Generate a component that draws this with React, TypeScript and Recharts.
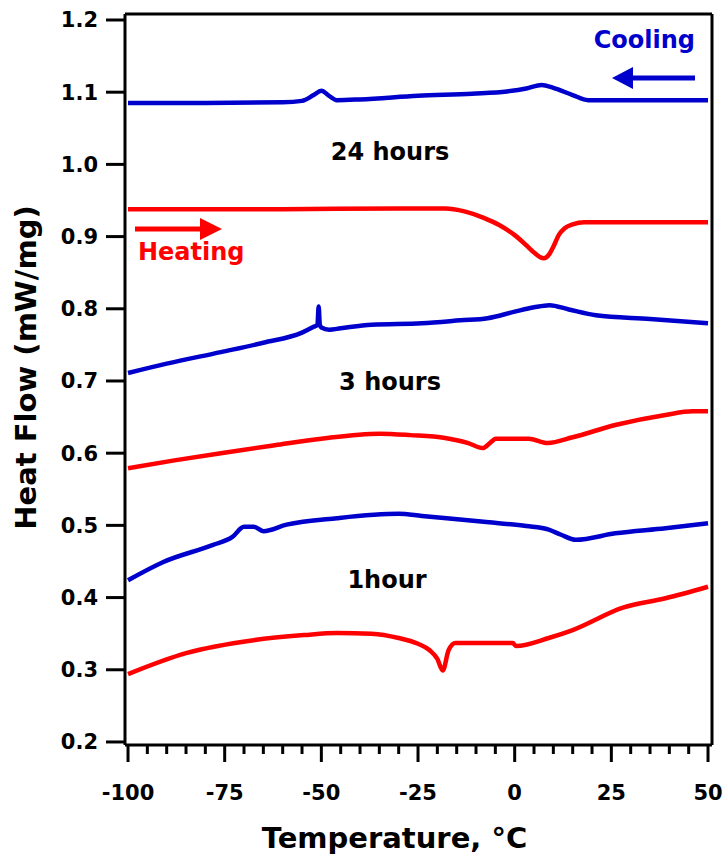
import React from "react";
import { LineChart, Line, XAxis, YAxis, ReferenceLine } from "recharts";

// temperatures (°C) and heat flow (mW/mg)
const cool24T = [-100, -80, -60, -55, -52, -50, -48, -46, -40, -25, -11, -2, 3, 7, 10, 15, 19, 30, 50];
const cool24H = [1.085, 1.085, 1.086, 1.088, 1.096, 1.102, 1.095, 1.089, 1.09, 1.095, 1.098, 1.101, 1.105, 1.11, 1.106, 1.096, 1.089, 1.089, 1.089];

const heat24T = [-100, -60, -30, -18, -13, -8, -4, 0, 3, 5, 7.5, 9, 10, 11.5, 13, 15, 18, 30, 50];
const heat24H = [0.938, 0.938, 0.939, 0.939, 0.935, 0.926, 0.916, 0.902, 0.888, 0.878, 0.87, 0.876, 0.886, 0.903, 0.912, 0.917, 0.92, 0.92, 0.92];

const cool3T = [-100, -90, -76, -65, -55, -52, -51, -50.7, -50.4, -50, -48, -45, -37, -24, -14, -7, 0, 5, 9, 14, 21, 35, 50];
const cool3H = [0.711, 0.724, 0.74, 0.753, 0.767, 0.775, 0.778, 0.803, 0.778, 0.774, 0.771, 0.773, 0.778, 0.78, 0.784, 0.787, 0.796, 0.802, 0.805, 0.799, 0.791, 0.786, 0.78];

const heat3T = [-100, -88, -76, -62, -50, -35, -27, -18, -12, -8.3, -6, -4.9, 0, 3.6, 8.5, 15, 26, 39, 46, 50];
const heat3H = [0.579, 0.59, 0.6, 0.611, 0.62, 0.627, 0.625, 0.621, 0.614, 0.607, 0.616, 0.62, 0.62, 0.62, 0.614, 0.622, 0.639, 0.653, 0.658, 0.658];

const cool1T = [-100, -91, -78, -73, -70, -67.5, -65, -59, -46, -30, -24, -8, 3, 8.8, 12, 15.8, 26, 39, 50];
const cool1H = [0.424, 0.449, 0.473, 0.484, 0.498, 0.498, 0.492, 0.501, 0.51, 0.516, 0.513, 0.505, 0.499, 0.494, 0.487, 0.48, 0.489, 0.496, 0.503];

const heat1T = [-100, -85, -67.5, -54.5, -46, -37, -30, -25, -22, -20, -18.6, -17.1, -15.3, -8, -0.5, 0.3, 8.8, 15, 28, 39, 50];
const heat1H = [0.294, 0.323, 0.341, 0.348, 0.351, 0.35, 0.344, 0.336, 0.327, 0.315, 0.299, 0.327, 0.337, 0.337, 0.337, 0.333, 0.344, 0.355, 0.386, 0.399, 0.415];

const xTicks = [-100, -95, -90, -85, -80, -75, -70, -65, -60, -55, -50, -45, -40, -35, -30, -25, -20, -15, -10, -5, 0, 5, 10, 15, 20, 25, 30, 35, 40, 45, 50];
const yTicks = [0.2, 0.3, 0.4, 0.5, 0.6, 0.7, 0.8, 0.9, 1.0, 1.1, 1.2];

const X_DOMAIN = [-100.78, 51.03];
const Y_DOMAIN = [0.1958, 1.2083];

const BLUE = "#0000CC";
const RED = "#FF0000";
const FONT = "DejaVu Sans";

const zip = (t: number[], h: number[]) => t.map((temp, i) => ({ temp, flow: h[i] }));

const series = [
  { key: "cool24", data: zip(cool24T, cool24H), color: BLUE },
  { key: "heat24", data: zip(heat24T, heat24H), color: RED },
  { key: "cool3", data: zip(cool3T, cool3H), color: BLUE },
  { key: "heat3", data: zip(heat3T, heat3H), color: RED },
  { key: "cool1", data: zip(cool1T, cool1H), color: BLUE },
  { key: "heat1", data: zip(heat1T, heat1H), color: RED },
];

function XTick(props: any) {
  const { x, y, payload } = props;
  const major = payload.value % 25 === 0;
  return (
    <g>
      <line x1={x} x2={x} y1={y} y2={y + (major ? 17 : 9)} stroke="#000" strokeWidth={3} />
      {major && (
        <text x={x} y={y + 55} textAnchor="middle" fontSize={21} fontWeight="bold" fontFamily={FONT} fill="#000">
          {payload.value}
        </text>
      )}
    </g>
  );
}

export default function App() {
  return (
    <div style={{ position: "relative", width: 724, height: 857, background: "#fff" }}>
      <style>{"body{margin:0}"}</style>
      <LineChart width={724} height={857} margin={{ top: 14, right: 12, bottom: 0, left: 0 }}>
        <XAxis
          dataKey="temp"
          type="number"
          domain={X_DOMAIN}
          allowDataOverflow
          ticks={xTicks}
          interval={0}
          height={112}
          tickSize={0}
          tickMargin={0}
          tickLine={false}
          tick={<XTick />}
          axisLine={{ stroke: "#000", strokeWidth: 3 }}
          label={{
            value: "Temperature, °C",
            position: "insideBottom",
            offset: 9,
            dx: -24,
            style: { fontSize: 29, fontWeight: "bold", fontFamily: FONT, fill: "#000" },
          }}
        />
        <YAxis
          type="number"
          domain={Y_DOMAIN}
          allowDataOverflow
          ticks={yTicks}
          interval={0}
          width={125}
          tickSize={19}
          tickMargin={8}
          tickFormatter={(v: number) => v.toFixed(1)}
          tickLine={{ stroke: "#000", strokeWidth: 3 }}
          axisLine={{ stroke: "#000", strokeWidth: 3 }}
          tick={{ fontSize: 21, fontWeight: "bold", fontFamily: FONT, fill: "#000" }}
          label={{
            value: "Heat Flow (mW/mg)",
            angle: -90,
            position: "insideLeft",
            offset: 26,
            textAnchor: "middle",
            dy: -12,
            style: { fontSize: 29, fontWeight: "bold", fontFamily: FONT, fill: "#000", textAnchor: "middle" },
          }}
        />
        {/* frame: top and right edges */}
        <ReferenceLine y={Y_DOMAIN[1]} stroke="#000" strokeWidth={3} ifOverflow="visible" />
        <ReferenceLine x={X_DOMAIN[1]} stroke="#000" strokeWidth={3} ifOverflow="visible" />
        {series.map((s) => (
          <Line
            key={s.key}
            data={s.data}
            dataKey="flow"
            type="monotone"
            stroke={s.color}
            strokeWidth={4.5}
            dot={false}
            isAnimationActive={false}
          />
        ))}
      </LineChart>
      <svg width={724} height={857} style={{ position: "absolute", left: 0, top: 0, pointerEvents: "none" }}>
        <g fontFamily={FONT} fontWeight="bold" fontSize={24}>
          <text x={695} y={48} textAnchor="end" fill={BLUE}>Cooling</text>
          <text x={390} y={160} textAnchor="middle" fill="#000">24 hours</text>
          <text x={138} y={260} fill={RED}>Heating</text>
          <text x={390} y={390} textAnchor="middle" fill="#000">3 hours</text>
          <text x={387} y={588} textAnchor="middle" fill="#000">1hour</text>
        </g>
        <line x1={695} y1={78} x2={630} y2={78} stroke={BLUE} strokeWidth={5} />
        <polygon points="612,78 633,67 633,89" fill={BLUE} />
        <line x1={135} y1={229} x2={203} y2={229} stroke={RED} strokeWidth={5} />
        <polygon points="222,229 200,218 200,240" fill={RED} />
      </svg>
    </div>
  );
}
